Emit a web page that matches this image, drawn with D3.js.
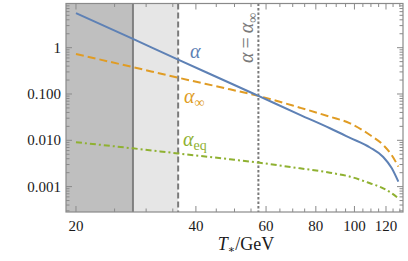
<!DOCTYPE html>
<html><head><meta charset="utf-8">
<script src="https://cdn.jsdelivr.net/npm/d3@7"></script>
<style>body{margin:0;background:#fff}svg{display:block}</style>
</head><body>
<script>
// Data
const temps      = [20, 27.8, 36.1, 48.7, 57.4, 73.0, 86.8, 97.5, 109.4, 118.1, 124.0, 128.9];
const alpha      = [5.6, 1.55, 0.55, 0.173, 0.091, 0.0355, 0.0182, 0.0113, 0.0070, 0.00436, 0.00252, 0.00128];
const alphaInf   = [0.73, 0.38, 0.225, 0.126, 0.091, 0.0506, 0.0323, 0.0233, 0.0130, 0.0079, 0.0048, 0.0027];
const alphaEq    = [0.0091, 0.0067, 0.0052, 0.0039, 0.0033, 0.00248, 0.0020, 0.00164, 0.00118, 0.00092, 0.00072, 0.00056];
const xTicks     = [20, 40, 60, 80, 100, 120];
const xMinor     = [25, 30, 35, 45, 50, 55, 65, 70, 75, 85, 90, 95, 105, 110, 115, 125, 130];
const yTicks     = [1, 0.1, 0.01, 0.001];
const yTickLabels= ["1", "0.100", "0.010", "0.001"];
const regionEdges = [27.8, 36.1, 57.4]; // solid, dashed, dotted vertical lines

const W = 408, H = 261;
const L = 66, R = 403, T = 3.5, B = 212;
const svg = d3.select("body").append("svg").attr("width", W).attr("height", H);

const x = d3.scaleLog().domain([18.88, 132.4]).range([L, R]);
const y = d3.scaleLog().domain([2.83e-4, 9.0]).range([B, T]);

const serif = "'Liberation Serif','DejaVu Serif',serif";

// shaded regions
svg.append("rect").attr("x", L).attr("y", T).attr("width", x(regionEdges[0]) - L).attr("height", B - T).attr("fill", "#bfbfbf");
svg.append("rect").attr("x", x(regionEdges[0])).attr("y", T).attr("width", x(regionEdges[1]) - x(regionEdges[0])).attr("height", B - T).attr("fill", "#e6e6e6");

// vertical lines
svg.append("line").attr("x1", x(regionEdges[0])).attr("x2", x(regionEdges[0])).attr("y1", T).attr("y2", B)
  .attr("stroke", "#808080").attr("stroke-width", 2);
svg.append("line").attr("x1", x(regionEdges[1])).attr("x2", x(regionEdges[1])).attr("y1", T).attr("y2", B)
  .attr("stroke", "#7a7a7a").attr("stroke-width", 2).attr("stroke-dasharray", "6,3");
svg.append("line").attr("x1", x(regionEdges[2])).attr("x2", x(regionEdges[2])).attr("y1", T).attr("y2", B)
  .attr("stroke", "#7a7a7a").attr("stroke-width", 2).attr("stroke-dasharray", "2.5,2");

// frame
svg.append("rect").attr("x", L).attr("y", T).attr("width", R - L).attr("height", B - T)
  .attr("fill", "none").attr("stroke", "#8a8a8a").attr("stroke-width", 1.2);

// ticks
const tickG = svg.append("g").attr("stroke", "#8a8a8a").attr("stroke-width", 1);
xTicks.forEach(t => {
  tickG.append("line").attr("x1", x(t)).attr("x2", x(t)).attr("y1", B).attr("y2", B - 6);
  tickG.append("line").attr("x1", x(t)).attr("x2", x(t)).attr("y1", T).attr("y2", T + 6);
});
xMinor.filter(t => x(t) < R).forEach(t => {
  tickG.append("line").attr("x1", x(t)).attr("x2", x(t)).attr("y1", B).attr("y2", B - 3.5);
  tickG.append("line").attr("x1", x(t)).attr("x2", x(t)).attr("y1", T).attr("y2", T + 3.5);
});
const yMinor = [];
[1e-4, 1e-3, 1e-2, 1e-1, 1].forEach(d => { for (let k = 2; k <= 9; k++) yMinor.push(d * k); });
yMinor.filter(v => y(v) > T && y(v) < B).forEach(v => {
  tickG.append("line").attr("x1", L).attr("x2", L + 3.5).attr("y1", y(v)).attr("y2", y(v));
  tickG.append("line").attr("x1", R).attr("x2", R - 3.5).attr("y1", y(v)).attr("y2", y(v));
});
yTicks.forEach(v => {
  tickG.append("line").attr("x1", L).attr("x2", L + 6).attr("y1", y(v)).attr("y2", y(v));
  tickG.append("line").attr("x1", R).attr("x2", R - 6).attr("y1", y(v)).attr("y2", y(v));
});

// tick labels
svg.append("g").selectAll("text").data(xTicks).join("text")
  .attr("x", d => x(d)).attr("y", 231).attr("text-anchor", "middle")
  .attr("font-family", serif).attr("font-size", 15).attr("fill", "#1a1a1a").text(d => d);
svg.append("g").selectAll("text").data(yTicks).join("text")
  .attr("x", 61).attr("y", d => y(d) + 5).attr("text-anchor", "end")
  .attr("font-family", serif).attr("font-size", 15).attr("fill", "#1a1a1a").text((d, i) => yTickLabels[i]);

// axis title
const at = svg.append("text").attr("x", 246).attr("y", 250).attr("text-anchor", "middle")
  .attr("font-family", serif).attr("font-size", 18).attr("fill", "#1a1a1a");
at.append("tspan").attr("font-style", "italic").text("T");
at.append("tspan").attr("font-size", 11).attr("dy", 3).text("∗");
at.append("tspan").attr("dy", -3).text("/GeV");

// curves
const line = d3.line().x((d, i) => x(temps[i])).y(d => y(d)).curve(d3.curveMonotoneX);
svg.append("path").datum(alphaEq).attr("d", line).attr("fill", "none")
  .attr("stroke", "#8fb131").attr("stroke-width", 2).attr("stroke-dasharray", "6,3,2,3");
svg.append("path").datum(alphaInf).attr("d", line).attr("fill", "none")
  .attr("stroke", "#e09c24").attr("stroke-width", 2).attr("stroke-dasharray", "8,4");
svg.append("path").datum(alpha).attr("d", line).attr("fill", "none")
  .attr("stroke", "#5e81b5").attr("stroke-width", 2);

// labels
svg.append("text").attr("x", 190).attr("y", 58).attr("font-family", serif).attr("font-size", 20)
  .attr("font-style", "italic").attr("fill", "#5e81b5").text("α");
const li = svg.append("text").attr("x", 184).attr("y", 103).attr("font-family", serif).attr("font-size", 20)
  .attr("fill", "#e09c24");
li.append("tspan").attr("font-style", "italic").text("α");
li.append("tspan").attr("font-size", 14).attr("dy", 4).text("∞");
const le = svg.append("text").attr("x", 183).attr("y", 146).attr("font-family", serif).attr("font-size", 20)
  .attr("fill", "#8fb131");
le.append("tspan").attr("font-style", "italic").text("α");
le.append("tspan").attr("font-size", 14).attr("dy", 4).text("eq");

const rl = svg.append("text").attr("transform", "translate(253,63) rotate(-90)")
  .attr("font-family", serif).attr("font-size", 20).attr("fill", "#7a7a7a");
rl.append("tspan").attr("font-style", "italic").text("α");
rl.append("tspan").text("\u2009=\u2009");
rl.append("tspan").attr("font-style", "italic").text("α");
rl.append("tspan").attr("font-size", 14).attr("dy", 4).text("∞");
</script>
</body></html>
